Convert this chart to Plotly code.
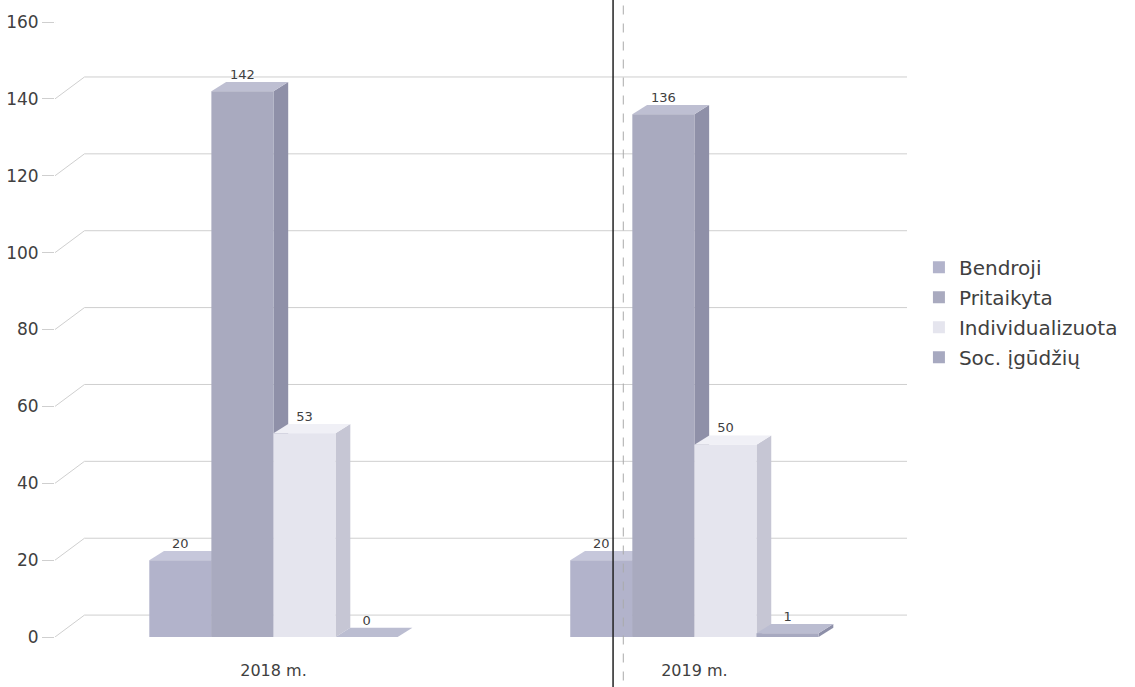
import plotly.graph_objects as go

# ---- data ----
categories = ["2018 m.", "2019 m."]
series_names = ["Bendroji", "Pritaikyta", "Individualizuota", "Soc. įgūdžių"]
bendroji = [20, 20]
pritaikyta = [142, 136]
individualizuota = [53, 50]
soc_igudziu = [0, 1]
y_ticks = [0, 20, 40, 60, 80, 100, 120, 140, 160]

series_values = [bendroji, pritaikyta, individualizuota, soc_igudziu]

# ---- styling ----
front_colors = ["#b2b3cb", "#a9aabf", "#e5e5ee", "#a7a9c0"]
side_colors = ["#9899b3", "#8f90a8", "#c6c6d4", "#8d8fa8"]
top_colors = ["#c6c7db", "#bebfd2", "#f0f0f6", "#bbbdd1"]
FONT = "DejaVu Sans"
TXT = "#404040"
GRID = "#cfcfcf"

n = len(series_names)
bargap = 0.41
w = (1 - bargap) / n
dx = 0.035      # bar depth (x units)
dy = 2.4        # bar depth (y units)
grid_dx = 0.07
grid_dy = 5.7
x_min, x_max = -0.519, 1.505
y_min, y_max = 0, 160

x_pos = list(range(len(categories)))

fig = go.Figure()
side_shapes, top_shapes = [], []
lab_x, lab_y, lab_t = [], [], []

for i, (name, vals) in enumerate(zip(series_names, series_values)):
    offset = -(1 - bargap) / 2 + i * w
    fig.add_trace(go.Bar(
        x=x_pos, y=vals, name=name, width=w, offset=offset,
        marker=dict(color=front_colors[i], line=dict(width=0)),
        legendgroup=name, hoverinfo="y+name",
    ))
    for j, v in zip(x_pos, vals):
        x0 = j + offset
        x1 = x0 + w
        side_shapes.append(dict(
            type="path", xref="x", yref="y", layer="between",
            path=f"M {x1},0 L {x1+dx},{dy} L {x1+dx},{v+dy} L {x1},{v} Z",
            fillcolor=side_colors[i], line=dict(width=0)))
        top_shapes.append(dict(
            type="path", xref="x", yref="y", layer="between",
            path=f"M {x0},{v} L {x0+dx},{v+dy} L {x1+dx},{v+dy} L {x1},{v} Z",
            fillcolor=top_colors[i], line=dict(width=0)))
        lab_x.append((x0 + x1) / 2)
        lab_y.append(v + dy)
        lab_t.append(str(v))

fig.add_trace(go.Scatter(
    x=lab_x, y=lab_y, text=lab_t, mode="text", textposition="top center",
    textfont=dict(family=FONT, size=13, color=TXT),
    showlegend=False, hoverinfo="skip", cliponaxis=False,
))

grid_shapes = []
for v in y_ticks:
    grid_shapes.append(dict(
        type="path", xref="x", yref="y", layer="below",
        path=f"M {x_min},{v} L {x_min+grid_dx},{v+grid_dy} L {x_max},{v+grid_dy}",
        line=dict(color=GRID, width=1)))

artifact_shapes = [
    dict(type="line", xref="paper", yref="paper", x0=0.655, x1=0.655, y0=-0.1, y1=1.1,
         line=dict(color="#222222", width=1.5), layer="above"),
    dict(type="line", xref="paper", yref="paper", x0=0.667, x1=0.667, y0=-0.1, y1=1.1,
         line=dict(color="#aaaaaa", width=1, dash="dash"), layer="above"),
]

fig.update_layout(
    width=1135, height=687,
    margin=dict(l=55, r=222, t=22, b=50),
    paper_bgcolor="white", plot_bgcolor="white",
    barmode="overlay",
    shapes=grid_shapes + side_shapes + top_shapes + artifact_shapes,
    font=dict(family=FONT, color=TXT),
    legend=dict(
        x=1.014, y=0.528, xanchor="left", yanchor="middle",
        font=dict(family=FONT, size=20, color=TXT),
        tracegroupgap=1, bgcolor="rgba(0,0,0,0)",
    ),
    xaxis=dict(
        range=[x_min, x_max], tickmode="array", tickvals=x_pos, ticktext=categories,
        showgrid=False, zeroline=False, showline=False, ticks="",
        tickfont=dict(family=FONT, size=16, color=TXT),
        ticklabelstandoff=22, automargin=False,
    ),
    yaxis=dict(
        range=[y_min, y_max], tickmode="array", tickvals=y_ticks,
        showgrid=False, zeroline=False, showline=False,
        ticks="outside", ticklen=12, tickcolor=GRID,
        tickfont=dict(family=FONT, size=17, color=TXT),
        automargin=False,
    ),
)

fig.write_html("out.html", config={"displayModeBar": False},
               post_script="document.body.style.margin='0';")
